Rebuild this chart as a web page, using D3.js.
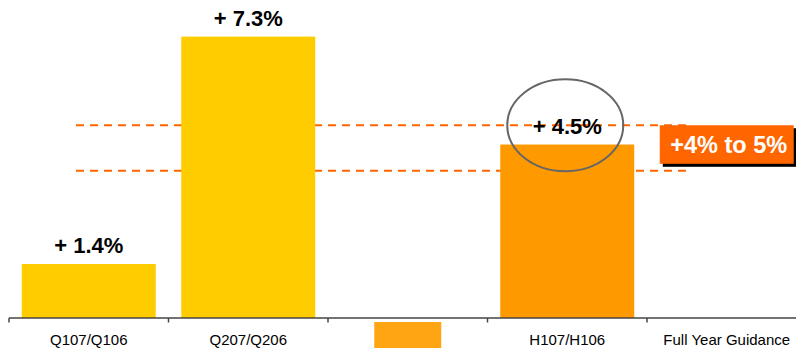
<!DOCTYPE html>
<html>
<head>
<meta charset="utf-8">
<script src="https://cdn.jsdelivr.net/npm/d3@7"></script>
<style>
  html, body { margin: 0; padding: 0; background: #fff; }
  svg { display: block; }
  text { font-family: Arial, "Liberation Sans", Helvetica, sans-serif; }
</style>
</head>
<body>
<svg id="chart" width="796" height="348"></svg>
<script>
// Growth by period (%)
const categories = ["Q107/Q106", "Q207/Q206", "", "H107/H106", "Full Year Guidance"];
const growth = [1.4, 7.3, null, 4.5, null];
const valueLabels = ["+ 1.4%", "+ 7.3%", "", "+ 4.5%", ""];
const barColors = ["#FFCC00", "#FFCC00", null, "#FF9900", null];

// Full-year guidance range and reference lines
const guidanceRange = [4, 5];
const guidanceLabel = "+4% to 5%";
const guideLines = [5, 3.82];

const svg = d3.select("#chart");
const width = 796, height = 348;
const axisY = 318;

const x = d3.scaleBand()
  .domain(categories.map((c, i) => i))
  .range([9, 806.5])
  .paddingInner(0.16)
  .paddingOuter(0.08);

const y = d3.scaleLinear()
  .domain([0, 8])
  .range([axisY, axisY - 8 * 38.55]);

// Reference dashed lines
svg.append("g")
  .selectAll("line")
  .data(guideLines)
  .join("line")
  .attr("x1", 76)
  .attr("x2", 688)
  .attr("y1", d => y(d))
  .attr("y2", d => y(d))
  .attr("stroke", "#FF6600")
  .attr("stroke-width", 2)
  .attr("stroke-dasharray", "8,6");

// Bars
const barData = categories.map((c, i) => ({ i, v: growth[i], color: barColors[i], label: valueLabels[i] }))
  .filter(d => d.v != null);

svg.append("g")
  .selectAll("rect")
  .data(barData)
  .join("rect")
  .attr("x", d => x(d.i))
  .attr("width", x.bandwidth())
  .attr("y", d => y(d.v))
  .attr("height", d => y(0) - y(d.v))
  .attr("fill", d => d.color);

// Value labels
svg.append("g")
  .selectAll("text")
  .data(barData)
  .join("text")
  .attr("x", d => x(d.i) + x.bandwidth() / 2)
  .attr("y", d => y(d.v) - 11)
  .attr("text-anchor", "middle")
  .attr("font-size", 22)
  .attr("font-weight", "bold")
  .attr("fill", "#000")
  .text(d => d.label);

// Highlight ellipse around the half-year figure
svg.append("ellipse")
  .attr("cx", x(3) + x.bandwidth() / 2 - 2)
  .attr("cy", y(guidanceRange[1]))
  .attr("rx", 58)
  .attr("ry", 46)
  .attr("fill", "none")
  .attr("stroke", "#666")
  .attr("stroke-width", 2);

// Guidance range box with drop shadow
const gx = x(4), gw = x.bandwidth();
svg.append("rect")
  .attr("x", gx + 3)
  .attr("y", y(guidanceRange[1]) + 3)
  .attr("width", gw)
  .attr("height", y(guidanceRange[0]) - y(guidanceRange[1]))
  .attr("fill", "#000");
svg.append("rect")
  .attr("x", gx)
  .attr("y", y(guidanceRange[1]))
  .attr("width", gw)
  .attr("height", y(guidanceRange[0]) - y(guidanceRange[1]))
  .attr("fill", "#FF6600");
svg.append("text")
  .attr("x", gx + gw / 2 + 2)
  .attr("y", (y(guidanceRange[0]) + y(guidanceRange[1])) / 2 + 8.5)
  .attr("text-anchor", "middle")
  .attr("font-size", 23.5)
  .attr("font-weight", "bold")
  .attr("fill", "#fff")
  .text(guidanceLabel);

// Swatch under the empty middle category
svg.append("rect")
  .attr("x", x(2) + x.bandwidth() / 4)
  .attr("y", 322)
  .attr("width", x.bandwidth() / 2)
  .attr("height", 30)
  .attr("fill", "#FFA514");

// Category axis with ticks at band boundaries
const axis = svg.append("g");
axis.append("line")
  .attr("x1", 9).attr("x2", width)
  .attr("y1", axisY).attr("y2", axisY)
  .attr("stroke", "#444").attr("stroke-width", 1.5);

const boundaries = categories.map((c, i) => x(i) - x.step() * x.paddingInner() / 2);
axis.selectAll("line.tick")
  .data(boundaries)
  .join("line")
  .attr("class", "tick")
  .attr("x1", d => d).attr("x2", d => d)
  .attr("y1", axisY).attr("y2", axisY + 4.5)
  .attr("stroke", "#444").attr("stroke-width", 1.5);

axis.selectAll("text")
  .data(categories.map((c, i) => ({ c, i })))
  .join("text")
  .attr("x", d => x(d.i) + x.bandwidth() / 2)
  .attr("y", 345)
  .attr("text-anchor", "middle")
  .attr("font-size", 15)
  .attr("fill", "#000")
  .text(d => d.c);
</script>
</body>
</html>
